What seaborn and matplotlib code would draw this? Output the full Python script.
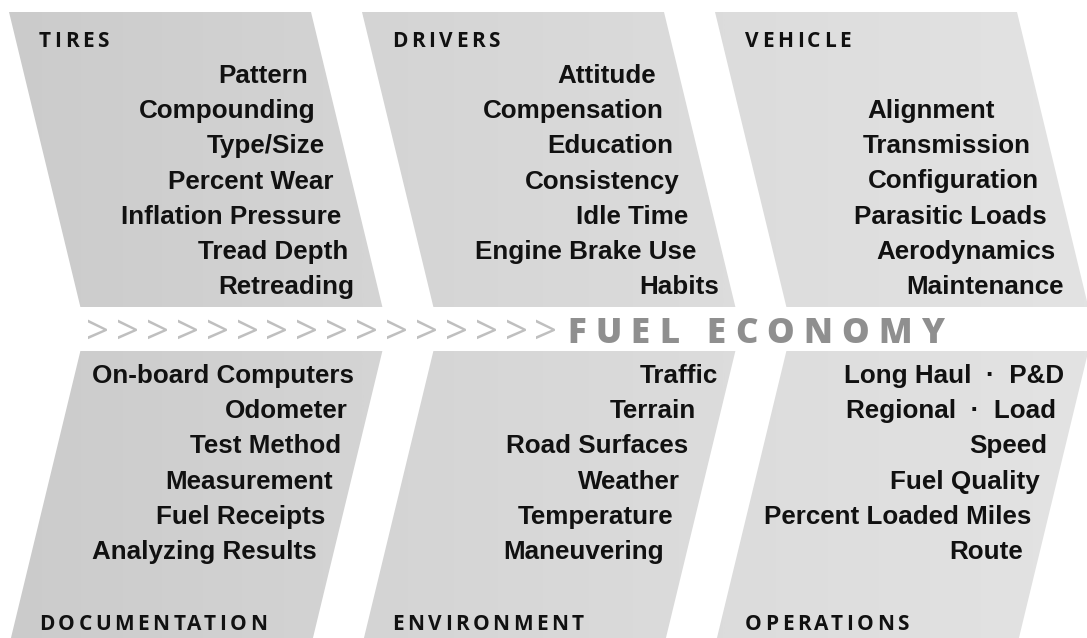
"""Fuel economy cause-and-effect chart (fishbone style)."""
import matplotlib
matplotlib.use("Agg")
from matplotlib import pyplot as plt
from matplotlib.patches import Polygon
from matplotlib.font_manager import FontProperties
import seaborn as sns
import numpy as np

# Chart content
EFFECT = "FUEL ECONOMY"
CATEGORIES = ["TIRES", "DRIVERS", "VEHICLE",
              "DOCUMENTATION", "ENVIRONMENT", "OPERATIONS"]
TIRES = ["Pattern", "Compounding", "Type/Size", "Percent Wear",
         "Inflation Pressure", "Tread Depth", "Retreading"]
DRIVERS = ["Attitude", "Compensation", "Education", "Consistency",
           "Idle Time", "Engine Brake Use", "Habits"]
VEHICLE = ["Alignment", "Transmission", "Configuration", "Parasitic Loads",
           "Aerodynamics", "Maintenance"]
DOCUMENTATION = ["On-board Computers", "Odometer", "Test Method",
                 "Measurement", "Fuel Receipts", "Analyzing Results"]
ENVIRONMENT = ["Traffic", "Terrain", "Road Surfaces", "Weather",
               "Temperature", "Maneuvering"]
OPERATIONS = ["Long Haul  \u00b7  P&D", "Regional  \u00b7  Load", "Speed",
              "Fuel Quality", "Percent Loaded Miles", "Route"]
FACTORS = [TIRES, DRIVERS, VEHICLE, DOCUMENTATION, ENVIRONMENT, OPERATIONS]
N_CHEVRONS = 16

# Layout (pixels, y grows downward)
W, H = 1087, 638
PANEL_LEFT = [9, 362, 715]
PANEL_W = 302
TOP_Y = (12, 307)
BOT_Y = (351, 645)
SKEW = 0.242
LINE_STEP = 35.2
FIRST_BASE = [83, 83, 118, 383, 383, 383]
RIGHT_EDGES = [
    [308, 316, 325, 333, 341, 348, 354],
    [656, 664, 673, 680, 688, 696, 719],
    [995, 1031, 1039, 1047, 1056, 1064],
    [354, 348, 341, 333, 325, 317],
    [718, 696, 688, 680, 673, 664],
    [1064, 1056, 1047, 1040, 1031, 1023],
]
HEADER_X = [39, 392, 745, 39, 392, 745]
HEADER_BASE = [47, 47, 47, 630, 630, 630]

sns.set_theme(style="white")
plt.rcParams["font.family"] = ["Liberation Sans", "DejaVu Sans"]

fig = plt.figure(figsize=(W / 100, H / 100), dpi=100)
ax = fig.add_axes([0, 0, 1, 1])

# grey gradient panels, lighter towards the right
shade = sns.blend_palette(["#cbcbcb", "#d4d4d4", "#dcdcdc", "#e3e3e3"],
                          as_cmap=True)
ramp = np.linspace(0, 1, 512)[None, :]
panels = []
for x0 in PANEL_LEFT:
    y0, y1 = TOP_Y
    dx = SKEW * (y1 - y0)
    panels.append([(x0, y0), (x0 + PANEL_W, y0),
                   (x0 + PANEL_W + dx, y1), (x0 + dx, y1)])
for x0 in PANEL_LEFT:
    y0, y1 = BOT_Y
    xb = x0 + SKEW * (TOP_Y[1] - TOP_Y[0])
    dx = SKEW * (y1 - y0)
    panels.append([(xb, y0), (xb + PANEL_W, y0),
                   (xb + PANEL_W - dx, y1), (xb - dx, y1)])
for corners in panels:
    poly = Polygon(corners, closed=True, facecolor="none", edgecolor="none")
    ax.add_patch(poly)
    im = ax.imshow(ramp, cmap=shade, extent=(0, W, H, 0), aspect="auto",
                   vmin=0, vmax=1, zorder=0, interpolation="bilinear")
    im.set_clip_path(poly)

ax.set_xlim(0, W)
ax.set_ylim(H, 0)
ax.axis("off")

renderer = fig.canvas.get_renderer()


def text_width(s, prop):
    w, _, _ = renderer.get_text_width_height_descent(s, prop, ismath=False)
    return w


def tracked(x, y, s, prop, tracking, color):
    """Draw a string letter by letter with extra letter spacing."""
    for i, ch in enumerate(s):
        if ch == " ":
            continue
        left = x + text_width(s[:i + 1], prop) - text_width(ch, prop)
        ax.text(left + i * tracking, y, ch, fontproperties=prop,
                ha="left", va="baseline", color=color)


# factor lists
label_prop = FontProperties(family="Liberation Sans", weight="bold",
                            size=18.7)
for items, edges, base in zip(FACTORS, RIGHT_EDGES, FIRST_BASE):
    for k, (item, xr) in enumerate(zip(items, edges)):
        ax.text(xr, base + k * LINE_STEP, item, fontproperties=label_prop,
                ha="right", va="baseline", color="#111111")

# category headers
head_prop = FontProperties(family="Open Sans", weight="bold", size=15)
for name, x, y in zip(CATEGORIES, HEADER_X, HEADER_BASE):
    tracked(x, y, name, head_prop, 3.5, "#111111")

# spine: chevrons then effect
chev_prop = FontProperties(family="Open Sans", weight="normal", size=29)
pitch = 29.9
adv = text_width(">>", chev_prop) - text_width(">", chev_prop)
tracked(86, 344, ">" * N_CHEVRONS, chev_prop, pitch - adv, "#bfbfbf")

eff_prop = FontProperties(family="Open Sans", weight="heavy", size=25)
tracked(567, 343, EFFECT, eff_prop, 9.3, "#8f8f8f")

fig.savefig("out.png", dpi=100)
